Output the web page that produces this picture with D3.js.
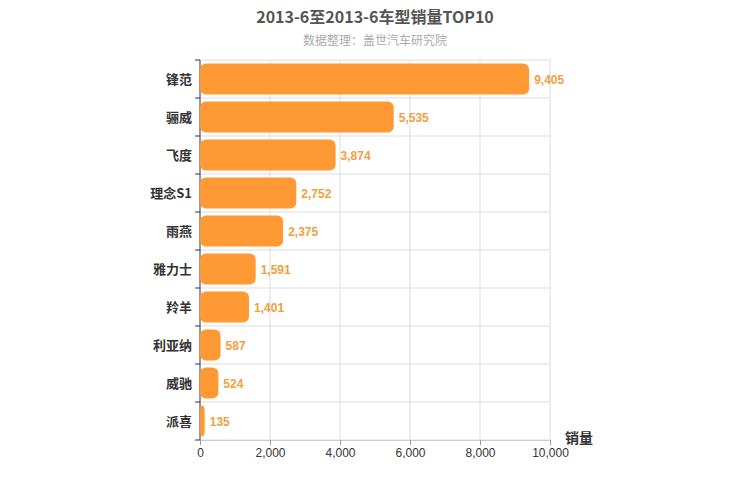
<!DOCTYPE html>
<html><head><meta charset="utf-8">
<script src="https://cdn.jsdelivr.net/npm/d3@7"></script>
<style>body{margin:0;background:#fff;font-family:"Noto Sans CJK SC","Noto Sans",sans-serif}</style>
</head><body>
<script>
"use strict"

// Chart data
let models = ["锋范", "骊威", "飞度", "理念S1", "雨燕", "雅力士", "羚羊", "利亚纳", "威驰", "派喜"];
let sales = [9405, 5535, 3874, 2752, 2375, 1591, 1401, 587, 524, 135];
let xTicks = [0, 2000, 4000, 6000, 8000, 10000];

let svg = d3.select("body").append("svg").attr("width", 750).attr("height", 500);

let x = d3.scaleLinear().domain([0, 10000]).range([200, 550]);
let y = d3.scaleBand().domain(models).range([60, 440]).paddingInner(0.18).paddingOuter(0.09);

// Title
svg.append("text").attr("x", 375).attr("y", 23).attr("text-anchor", "middle")
    .style("font-size", "16px").style("font-weight", "bold").attr("fill", "#555")
    .text("2013-6至2013-6车型销量TOP10");
svg.append("text").attr("x", 375).attr("y", 45).attr("text-anchor", "middle")
    .style("font-size", "12px").attr("fill", "#aaa").text("数据整理：盖世汽车研究院");

// Grid
let step = 38;
svg.selectAll(".vg").data(xTicks.slice(1)).enter().append("line")
    .attr("x1", d => x(d)).attr("x2", d => x(d)).attr("y1", 60).attr("y2", 440)
    .attr("stroke", "#ddd");
svg.selectAll(".hg").data(d3.range(11)).enter().append("line")
    .attr("x1", 200).attr("x2", 550).attr("y1", d => 60 + d * step).attr("y2", d => 60 + d * step)
    .attr("stroke", "#ddd");

// Axes
let xa = svg.append("g").attr("transform", "translate(0,440)")
    .call(d3.axisBottom(x).tickValues(xTicks).tickFormat(d3.format(",")).tickSize(5));
xa.select(".domain").attr("stroke", "#ccc");
xa.selectAll("line").attr("stroke", "#999");
xa.selectAll("text").style("font-size", "12px").attr("fill", "#333")
    .style("font-family", "Liberation Sans, Arial, sans-serif");

svg.append("line").attr("x1", 200).attr("x2", 200).attr("y1", 60).attr("y2", 440).attr("stroke", "#333");
svg.selectAll(".lt").data(d3.range(11)).enter().append("line")
    .attr("x1", 195).attr("x2", 200).attr("y1", d => 60 + d * step).attr("y2", d => 60 + d * step)
    .attr("stroke", "#333");

svg.selectAll(".cat").data(models).enter().append("text")
    .attr("x", 192).attr("y", d => y(d) + y.bandwidth() / 2 + 5).attr("text-anchor", "end")
    .style("font-size", "13px").style("font-weight", "bold").attr("fill", "#333").text(d => d);

svg.append("text").attr("x", 565).attr("y", 443)
    .style("font-size", "14px").style("font-weight", "bold").attr("fill", "#333").text("销量");

// Bars
svg.selectAll(".bar").data(models).enter().append("rect")
    .attr("x", 200).attr("y", d => y(d)).attr("height", y.bandwidth())
    .attr("width", (d, i) => x(sales[i]) - 200).attr("rx", 6).attr("ry", 6)
    .attr("fill", "#ff9933");

svg.selectAll(".val").data(models).enter().append("text")
    .attr("x", (d, i) => x(sales[i]) + 5).attr("y", d => y(d) + y.bandwidth() / 2 + 5)
    .style("font-size", "12px").style("font-weight", "bold")
    .style("font-family", "Liberation Sans, Arial, sans-serif")
    .attr("fill", "#f0a040").text((d, i) => d3.format(",")(sales[i]));
</script>
</body></html>
